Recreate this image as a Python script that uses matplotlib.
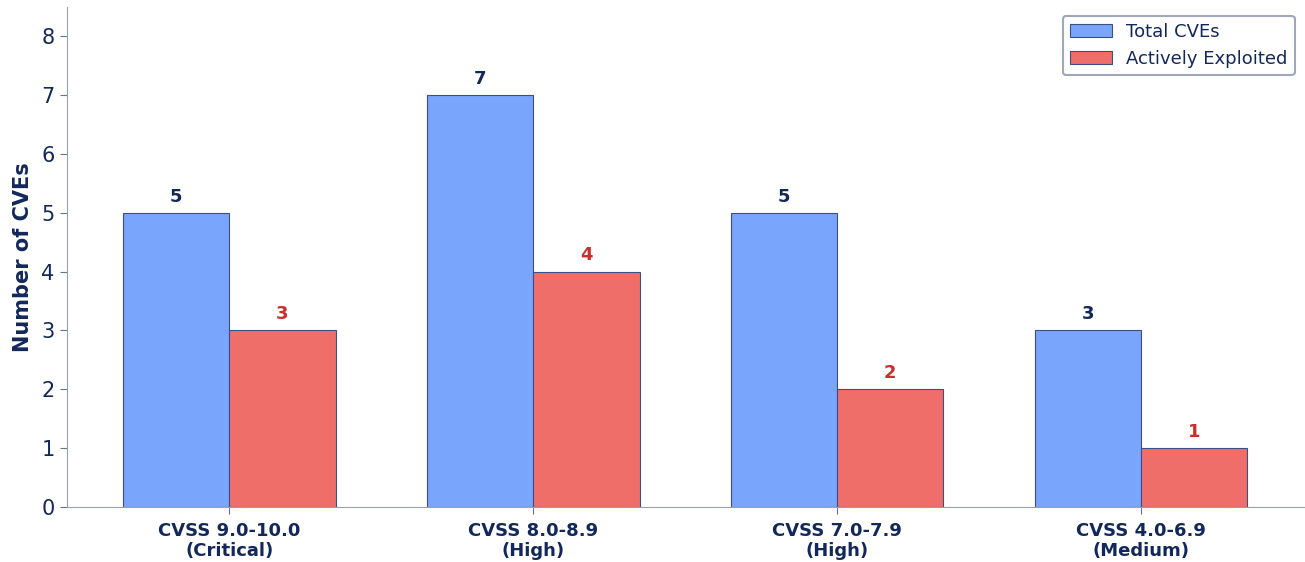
import matplotlib.pyplot as plt
import numpy as np

# CVE counts per CVSS severity band
categories = ["CVSS 9.0-10.0\n(Critical)", "CVSS 8.0-8.9\n(High)",
              "CVSS 7.0-7.9\n(High)", "CVSS 4.0-6.9\n(Medium)"]
total_cves = [5, 7, 5, 3]
exploited = [3, 4, 2, 1]

navy = "#13285a"
blue = "#79a6fc"
red = "#f06e6a"
label_red = "#c9302c"
edge = "#3b4f80"

fig, ax = plt.subplots(figsize=(13.05, 5.62), dpi=100)
x = np.arange(len(categories))
w = 0.35

b1 = ax.bar(x - w / 2, total_cves, w, color=blue, edgecolor=edge, linewidth=0.8, label="Total CVEs")
b2 = ax.bar(x + w / 2, exploited, w, color=red, edgecolor=edge, linewidth=0.8, label="Actively Exploited")

for rect, v in zip(b1, total_cves):
    ax.text(rect.get_x() + rect.get_width() / 2, v + 0.12, str(v), ha="center", va="bottom",
            fontsize=13, fontweight="bold", color=navy)
for rect, v in zip(b2, exploited):
    ax.text(rect.get_x() + rect.get_width() / 2, v + 0.12, str(v), ha="center", va="bottom",
            fontsize=13, fontweight="bold", color=label_red)

ax.set_xticks(x)
ax.set_xticklabels(categories, fontsize=13, fontweight="bold", color=navy, linespacing=1.1)
ax.set_ylim(0, 8.5)
ax.set_yticks(range(9))
ax.tick_params(axis="y", labelsize=15, colors=navy)
ax.tick_params(axis="x", pad=6)
ax.tick_params(axis="both", color="#6b7280", length=5)
ax.set_ylabel("Number of CVEs", fontsize=15, fontweight="bold", color=navy, labelpad=6)

for s in ["top", "right"]:
    ax.spines[s].set_visible(False)
for s in ["left", "bottom"]:
    ax.spines[s].set_color("#9aa0ad")

leg = ax.legend(fontsize=13, loc="upper right", frameon=True, edgecolor="#8a90a8", fancybox=True,
                handlelength=2.3)
leg.get_frame().set_linewidth(1.5)
for t in leg.get_texts():
    t.set_color(navy)

fig.subplots_adjust(left=0.051, right=0.999, top=0.988, bottom=0.098)
fig.savefig("out.png", dpi=100)
